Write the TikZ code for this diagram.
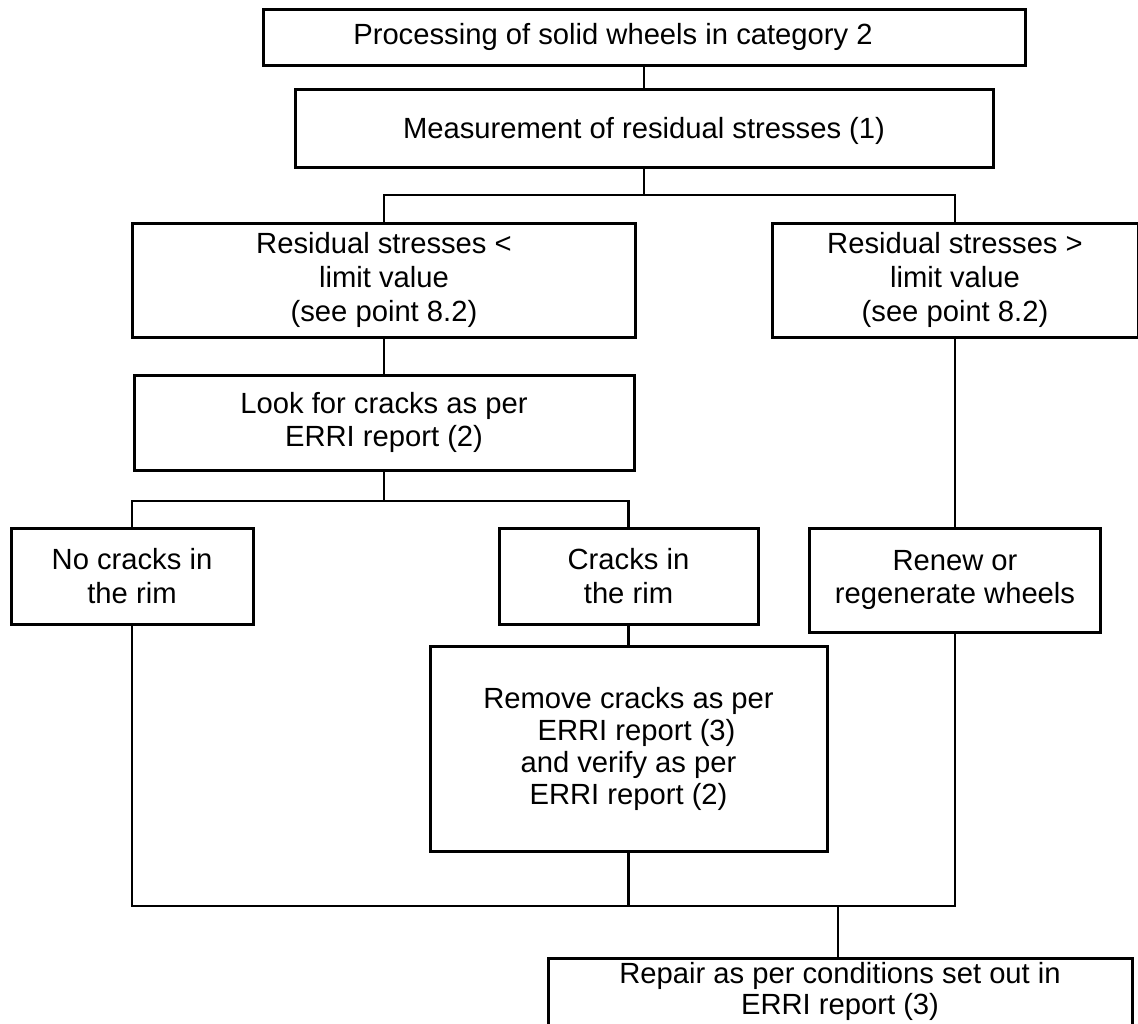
\documentclass[tikz,border=0pt]{standalone}
\usepackage{fontspec}
\setmainfont{Liberation Sans}
\begin{document}
\begin{tikzpicture}[x=1pt,y=-1pt,
  flowbox/.style={draw, line width=3pt, align=center, inner sep=0pt,
    font=\fontsize{29.2pt}{33.6pt}\selectfont},
  conn/.style={line width=2.9pt}]
\useasboundingbox (0,0) rectangle (1138,1023);
% boxes
\node[flowbox, minimum width=762pt, minimum height=56pt] (b1) at (644,37)
  {Processing of solid wheels in category 2\hspace*{62pt}};
\node[flowbox, minimum width=698pt, minimum height=78pt] (b2) at (644,128)
  {\raisebox{-3pt}[\height][\depth]{Measurement of residual stresses (1)}};
\node[flowbox, minimum width=503pt, minimum height=114pt] (b3) at (384,280)
  {Residual stresses <\\limit value\\(see point 8.2)};
\node[flowbox, minimum width=366pt, minimum height=114pt] (b4) at (955,280)
  {Residual stresses >\\limit value\\(see point 8.2)};
\node[flowbox, minimum width=500pt, minimum height=95pt] (b5) at (384,422.5)
  {Look for cracks as per\\ERRI report (2)};
\node[flowbox, minimum width=242pt, minimum height=96pt] (b6) at (132,576)
  {No cracks in\\the rim};
\node[flowbox, minimum width=259pt, minimum height=96pt] (b7) at (628.5,576)
  {Cracks in\\the rim};
\node[flowbox, minimum width=291pt, minimum height=104pt] (b8) at (955,580)
  {Renew or\\regenerate wheels};
\node[flowbox, minimum width=397pt, minimum height=205pt,
  font=\fontsize{29.2pt}{32pt}\selectfont] (b9) at (628.5,748.5)
  {Remove cracks as per\\\hspace*{16pt}ERRI report (3)\\and verify as per\\ERRI report (2)};
\node[flowbox, minimum width=584pt, anchor=north, inner ysep=4pt, text depth=54pt,
  font=\fontsize{29.2pt}{30.5pt}\selectfont] (b10) at (840,957)
  {Repair as per conditions set out in\\ERRI report (3)};
% junctions
\coordinate (j1) at (644,195);
\coordinate (j2) at (384,501);
\coordinate (j3) at (838,906);
% connectors
\draw[conn] (b1.south) -- (b2.north);
\draw[conn] (b2.south) -- (j1);
\draw[conn] (b3.north) |- (j1) -| (b4.north);
\draw[conn] (b3.south) -- (b5.north);
\draw[conn] (b5.south) -- (j2);
\draw[conn] (b6.north) |- (j2) -| (b7.north);
\draw[conn] (b4.south) -- (b8.north);
\draw[conn] (b7.south) -- (b9.north);
\draw[conn] (b6.south) |- (b8.south |- j3) -- (b8.south);
\draw[conn] (b9.south) -- (b9.south |- j3);
\draw[conn] (j3) -- (j3 |- b10.north);
\end{tikzpicture}
\end{document}
